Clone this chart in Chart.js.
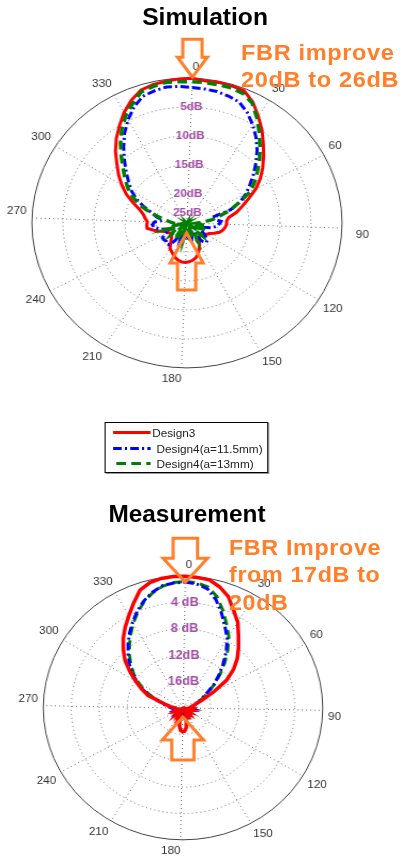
<!DOCTYPE html>
<html>
<head>
<meta charset="utf-8">
<script src="https://cdn.jsdelivr.net/npm/chart.js@4.4.1/dist/chart.umd.min.js"></script>
<style>
  html, body { margin: 0; padding: 0; background: #fff; width: 403px; height: 861px; overflow: hidden;
               font-family: Arial, "Liberation Sans", sans-serif; }
  .panel { position: absolute; left: -10px; width: 400px; }
  #simPanel  { top: 0;     height: 480px; transform: scaleX(1.07); transform-origin: 197.5px 0; }
  #measPanel { top: 480px; height: 381px; transform: scaleX(1.06); transform-origin: 193px 0; }
  canvas { position: absolute; left: 0; top: 0; }
  .title { position: absolute; font-weight: bold; font-size: 23px; line-height: 23px; color: #000;
           white-space: nowrap; transform: translateX(-50%); }
  .note { position: absolute; font-weight: bold; font-size: 22px; color: #ff7f2a; white-space: nowrap;
          letter-spacing: 0.6px; }
  #legend { position: absolute; left: 119.5px; top: 422px; width: 151px; height: 49px; border: 1px solid #000;
            background: #fff; box-shadow: 1px 1px 0 #999; font-size: 11px; color: #222; }
  #legend .row { position: absolute; left: 0; width: 100%; height: 14px; }
  #legend svg { position: absolute; left: 0; top: 0; }
  #legend span { position: absolute; top: 0; line-height: 14px; white-space: nowrap; }
</style>
</head>
<body>
<div id="simPanel" class="panel">
  <canvas id="simChart" width="400" height="400"></canvas>
  <div class="title" style="left:213.9px; top:6px;">Simulation</div>
  <div class="note" style="left:247.5px; top:39px; line-height:27px;">FBR improve<br>20dB to 26dB</div>
  <div id="legend"></div>
</div>
<div id="measPanel" class="panel">
  <canvas id="measChart" width="400" height="381"></canvas>
  <div class="title" style="left:196.8px; top:22.5px;">Measurement</div>
  <div class="note" style="left:236.4px; top:53.5px; line-height:27.5px;">FBR Improve<br>from 17dB to<br>20dB</div>
</div>

<script>
// Azimuth of each sample, degrees clockwise from the main beam
const angleLabels = ['0','5','10','15','20','25','30','35','40','45','50','55',
  '60','65','70','75','80','85','90','95','100','105','110','115',
  '120','125','130','135','140','145','150','155','160','165','170','175',
  '180','185','190','195','200','205','210','215','220','225','230','235',
  '240','245','250','255','260','265','270','275','280','285','290','295',
  '300','305','310','315','320','325','330','335','340','345','350','355'];

const seriesNames = ['Design3', 'Design4(a=11.5mm)', 'Design4(a=13mm)'];

// Simulated normalised gain, dB
const simDesign3 = [
  0, -0.3, -0.2, -0.25, -0.4, -1.6, -3.3, -4.9, -6.6, -8.1, -9.5, -10.9,
  -12.4, -14.2, -15.6, -16.8, -18.2, -18.6, -18.6, -18.8, -19.1, -19.5, -20.3, -21.0,
  -21.3, -22.0, -22.3, -22.0, -21.8, -21.4, -20.7, -20.0, -19.3, -18.8, -18.5, -18.3,
  -18.2, -18.2, -18.4, -18.7, -19.1, -19.5, -19.8, -20.6, -21.2, -21.6, -21.8, -21.8,
  -21.5, -21.3, -20.4, -19.5, -18.5, -18.5, -18.6, -18.2, -17.8, -17.0, -15.6, -14.0,
  -12.6, -11.2, -9.8, -8.1, -6.5, -5.0, -3.4, -2.0, -0.9, -0.5, -0.3, -0.1];
const simDesign4a115 = [
  -1.6, -1.7, -1.8, -2.1, -2.5, -3.6, -5.0, -6.5, -8.1, -9.8, -11.4, -12.9,
  -14.2, -15.7, -17.6, -21.0, -20.5, -19.5, -19.8, -20.2, -21.0, -22.5, -23.0, -22.5,
  -22.0, -21.3, -20.6, -20.4, -21.0, -22.5, -23.5, -23.0, -22.5, -23.5, -23.0, -22.5,
  -22.8, -22.5, -23.0, -23.5, -22.5, -23.5, -21.5, -20.3, -20.1, -20.4, -20.3, -20.3,
  -21.0, -22.0, -21.5, -20.5, -19.6, -19.4, -19.8, -21.0, -20.0, -19.1, -17.5, -15.8,
  -14.4, -13.2, -11.8, -10.2, -8.4, -6.5, -4.8, -3.2, -2.0, -1.6, -1.3, -1.4];
const simDesign4a13 = [
  -0.6, -0.6, -0.6, -0.6, -0.9, -1.8, -3.7, -5.6, -7.4, -9.0, -10.6, -12.0,
  -13.4, -15.8, -17.6, -19.5, -20.9, -22.5, -23.5, -22.0, -24.0, -23.0, -21.5, -23.5,
  -24.5, -22.5, -21.8, -23.5, -24.5, -22.5, -21.5, -23.0, -24.5, -23.0, -22.0, -23.5,
  -24.0, -23.5, -22.0, -23.0, -24.5, -23.0, -21.5, -22.5, -24.5, -23.5, -21.8, -22.5,
  -24.5, -23.0, -21.5, -23.0, -24.0, -23.0, -22.5, -21.8, -20.6, -18.8, -16.8, -15.2,
  -13.8, -12.5, -11.2, -9.5, -7.6, -5.7, -4.0, -2.6, -1.2, -0.8, -0.5, -0.6];

// Measured normalised gain, dB
const measDesign3 = [
  0, -0.1, -0.2, -0.9, -1.9, -3.5, -4.8, -6.5, -7.9, -9.2, -10.7, -12.5,
  -15.0, -17.0, -18.0, -18.5, -18.8, -19.0, -18.6, -18.8, -19.2, -18.7, -19.0, -19.3,
  -18.9, -19.2, -19.0, -18.6, -18.9, -19.2, -18.8, -19.0, -18.6, -18.0, -17.0, -16.5,
  -16.4, -16.6, -17.3, -18.5, -19.2, -18.8, -19.3, -18.9, -19.2, -18.7, -19.1, -19.4,
  -18.9, -18.6, -19.0, -19.3, -19.1, -18.9, -18.9, -18.3, -17.6, -16.6, -14.6, -13.4,
  -12.1, -10.6, -9.0, -7.7, -6.4, -5.2, -4.0, -2.6, -1.1, -0.4, -0.1, 0];
const measDesign4a115 = [
  -0.9, -1.1, -1.6, -2.9, -4.6, -6.3, -7.7, -9.5, -11.3, -12.9, -14.3, -15.8,
  -16.8, -17.5, -18.0, -18.4, -18.7, -18.9, -19.1, -18.7, -19.3, -19.0, -18.6, -19.2,
  -19.4, -18.9, -18.7, -19.2, -19.4, -19.0, -18.8, -19.3, -19.1, -18.7, -18.5, -18.9,
  -19.2, -18.8, -18.6, -19.1, -19.4, -19.0, -18.7, -19.2, -19.4, -18.9, -18.6, -19.0,
  -19.3, -18.8, -18.6, -19.1, -18.9, -18.5, -18.3, -17.9, -17.3, -16.5, -15.0, -13.5,
  -12.3, -11.0, -9.8, -8.7, -7.5, -6.3, -5.1, -3.9, -2.8, -1.9, -1.2, -1.0];
const measDesign4a13 = [
  -0.8, -0.9, -1.3, -2.4, -4.1, -5.8, -7.3, -9.1, -10.9, -12.6, -14.1, -15.6,
  -16.6, -17.4, -17.9, -18.3, -18.6, -18.8, -19.0, -19.3, -18.8, -18.6, -19.1, -19.4,
  -19.0, -18.6, -19.0, -19.4, -19.1, -18.7, -19.0, -19.4, -19.0, -18.7, -19.1, -19.4,
  -19.0, -18.7, -19.0, -19.3, -18.9, -18.6, -19.0, -19.4, -19.0, -18.7, -19.1, -19.4,
  -19.0, -18.7, -19.0, -19.3, -18.9, -18.6, -18.4, -18.0, -17.5, -16.7, -15.3, -13.8,
  -12.6, -11.3, -10.1, -9.0, -7.8, -6.6, -5.3, -4.1, -2.9, -2.0, -1.3, -0.9];

// Level rings and their captions
const simRingValues = [-5, -10, -15, -20, -25];
const simRingLabels = ['5dB', '10dB', '15dB', '20dB', '25dB'];
const measRingValues = [-4, -8, -12, -16];
const measRingLabels = ['4 dB', '8 dB', '12dB', '16dB'];

const FONT = 'Arial, "Liberation Sans", sans-serif';
const lineStyles = [
  { color: '#ff0000', dash: [] },
  { color: '#0000ff', dash: [8, 3, 2, 3] },
  { color: '#008000', dash: [9, 5] }
];

// Captions for the level rings, placed along the 0-degree spoke
function ringLabelPlugin(values, labels, font, minDist) {
  return {
    id: 'ringLabels',
    afterDatasetsDraw(chart) {
      const s = chart.scales.r, ctx = chart.ctx;
      ctx.save();
      ctx.font = font;
      ctx.fillStyle = '#a54ea8';
      ctx.textAlign = 'center';
      ctx.textBaseline = 'middle';
      values.forEach((v, i) => {
        const d = Math.max(s.getDistanceFromCenterForValue(v), minDist);
        const p = s.getPointPosition(0, d);
        ctx.fillText(labels[i], p.x, p.y);
      });
      ctx.restore();
    }
  };
}

// Hollow block arrows marking front and back directions
function arrowPlugin(arrows) {
  return {
    id: 'fbrArrows',
    afterDraw(chart) {
      const s = chart.scales.r, ctx = chart.ctx;
      ctx.save();
      ctx.strokeStyle = '#ff7f2a';
      ctx.lineWidth = 3;
      ctx.lineJoin = 'miter';
      arrows.forEach(a => {
        const dist = a.fromEdge !== undefined ? s.drawingArea - a.fromEdge : a.fromCenter;
        const tip = s.getPointPosition(a.index, dist);
        const dir = a.down ? -1 : 1;           // shaft extends up for a down-pointing arrow
        const yb = tip.y + dir * a.head;        // base of the head
        const ye = tip.y + dir * a.length;      // tail end
        ctx.beginPath();
        ctx.moveTo(tip.x, tip.y);
        ctx.lineTo(tip.x + a.headW / 2, yb);
        ctx.lineTo(tip.x + a.shaftW / 2, yb);
        ctx.lineTo(tip.x + a.shaftW / 2, ye);
        ctx.lineTo(tip.x - a.shaftW / 2, ye);
        ctx.lineTo(tip.x - a.shaftW / 2, yb);
        ctx.lineTo(tip.x - a.headW / 2, yb);
        ctx.closePath();
        ctx.stroke();
      });
      ctx.restore();
    }
  };
}

function makeDatasets(seriesList, widths, orders) {
  return seriesList.map((data, i) => ({
    label: seriesNames[i],
    data: data,
    borderColor: lineStyles[i].color,
    borderDash: lineStyles[i].dash,
    borderWidth: widths[i],
    fill: false,
    pointRadius: 0,
    tension: 0,
    order: orders[i]
  }));
}

function polarOptions(min, step, startAngle, padding, labelPad) {
  return {
    responsive: false,
    animation: false,
    devicePixelRatio: 1,
    layout: { padding: padding },
    plugins: { legend: { display: false }, tooltip: { enabled: false }, title: { display: false } },
    scales: {
      r: {
        min: min, max: 0, startAngle: startAngle,
        ticks: { display: false, stepSize: step },
        grid: {
          circular: true,
          color: c => (c.tick && c.tick.value === 0) ? '#444' : '#6e6e6e',
          lineWidth: 1
        },
        border: { dash: c => (c.tick && c.tick.value === 0) ? [] : [1, 3] },
        angleLines: {
          display: true,
          color: '#6e6e6e',
          lineWidth: c => (c.index % 6 === 0 ? 1 : 0),
          borderDash: () => [1, 3]
        },
        pointLabels: {
          padding: labelPad,
          color: '#333',
          font: { family: FONT, size: 11 },
          callback: (label, index) => (index % 6 === 0 ? label : '')
        }
      }
    }
  };
}

new Chart(document.getElementById('simChart'), {
  type: 'radar',
  data: { labels: angleLabels,
          datasets: makeDatasets([simDesign3, simDesign4a115, simDesign4a13], [3, 3, 3.5], [3, 2, 1]) },
  options: polarOptions(-25, 5, 2, { left: 0, right: 5, top: 60, bottom: 14 },
                        c => (c.index === 18 ? 13 : 5)),
  plugins: [
    ringLabelPlugin(simRingValues, simRingLabels, 'bold 11px ' + FONT, 10),
    arrowPlugin([
      { index: 0, fromEdge: -1, down: true, head: 20, headW: 28, shaftW: 18, length: 38 },
      { index: 36, fromCenter: 10, down: false, head: 30, headW: 31, shaftW: 17, length: 57 }
    ])
  ]
});

new Chart(document.getElementById('measChart'), {
  type: 'radar',
  data: { labels: angleLabels,
          datasets: makeDatasets([measDesign3, measDesign4a115, measDesign4a13], [3.5, 3, 3], [1, 2, 3]) },
  options: polarOptions(-20, 4, 1, { left: 17, right: 31, top: 78, bottom: 3 }, 5),
  plugins: [
    ringLabelPlugin(measRingValues, measRingLabels, 'bold 12px ' + FONT, 10),
    arrowPlugin([
      { index: 0, fromEdge: 6, down: true, head: 24, headW: 42, shaftW: 23, length: 44 },
      { index: 36, fromCenter: 9, down: false, head: 23, headW: 39, shaftW: 21, length: 43 }
    ])
  ]
});

// Legend for the three designs
(function buildLegend() {
  const box = document.getElementById('legend');
  const rowTops = [3, 19, 34];
  const svgNS = 'http://www.w3.org/2000/svg';
  seriesNames.forEach((name, i) => {
    const row = document.createElement('div');
    row.className = 'row';
    row.style.top = rowTops[i] + 'px';
    const svg = document.createElementNS(svgNS, 'svg');
    svg.setAttribute('width', '44');
    svg.setAttribute('height', '14');
    const ln = document.createElementNS(svgNS, 'line');
    ln.setAttribute('x1', i === 2 ? '10' : '7');
    ln.setAttribute('x2', '42');
    ln.setAttribute('y1', '6.5');
    ln.setAttribute('y2', '6.5');
    ln.setAttribute('stroke', lineStyles[i].color);
    ln.setAttribute('stroke-width', '3');
    if (lineStyles[i].dash.length) ln.setAttribute('stroke-dasharray', lineStyles[i].dash.join(','));
    svg.appendChild(ln);
    row.appendChild(svg);
    const t = document.createElement('span');
    t.textContent = name;
    t.style.left = (i === 0 ? 44 : 48) + 'px';
    row.appendChild(t);
    box.appendChild(row);
  });
})();
</script>
</body>
</html>
